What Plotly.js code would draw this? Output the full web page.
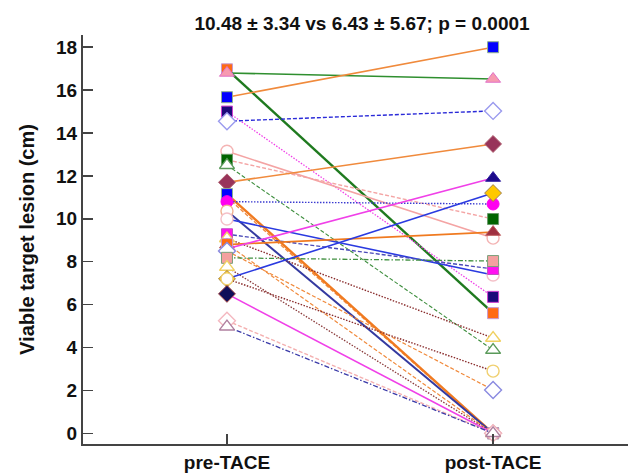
<!DOCTYPE html>
<html>
<head>
<meta charset="utf-8">
<script src="https://cdn.plot.ly/plotly-3.0.1.min.js"></script>
<style>html,body{margin:0;padding:0;background:#fff;}#chart{width:628px;height:474px;}</style>
</head>
<body>
<div id="chart"></div>
<script>
// ---- data ----
const categories = ['pre-TACE', 'post-TACE'];
const preValues  = [16.97, 16.8, 15.67, 15.0, 14.55, 13.15, 12.75, 12.5, 11.7, 11.0, 11.15, 10.8, 10.36, 9.99, 9.28, 9.08, 8.8, 8.6, 8.82, 8.5, 8.18, 7.75, 7.2, 7.2, 6.5, 5.25, 4.97];
const postValues = [5.6, 16.52, 18.0, 6.36, 15.03, 9.1, 9.99, 3.88, 13.49, 0, 0, 10.69, 0, 7.38, 7.66, 4.44, 9.38, 11.9, 0, 2.02, 8.03, 0, 11.2, 2.9, 0, 0, 0];
const yTicks = [0, 2, 4, 6, 8, 10, 12, 14, 16, 18];
const titleText = '10.48 ± 3.34 vs 6.43 ± 5.67; p = 0.0001';
const yTitle = 'Viable target lesion (cm)';

// ---- styles (one per case) ----
const DASH = {solid: 'solid', dash: '4px,2px', dot: '1.5px,1.5px', dashdot: '5px,2px,1.5px,2px'};
const styles = [
  {sym:'square', fill:'#ff6a13', edge:'#c79ad0', lc:'#1f7a1f', dash:'solid', w:2.4},
  {sym:'triangle-up', fill:'#f79ab0', edge:'#e070c8', lc:'#2f8f2f', dash:'solid', w:1.6},
  {sym:'square', fill:'#0000ff', edge:'#8fb08f', lc:'#f08a3c', dash:'solid', w:1.6},
  {sym:'square', fill:'#1c0a7a', edge:'#d040d0', lc:'#f040e8', dash:'dot', w:1.3},
  {sym:'diamond-open', fill:'#9a9aee', edge:'#9a9aee', lc:'#2a2ad8', dash:'dash', w:1.4},
  {sym:'circle-open', fill:'#f4b4b4', edge:'#f4b4b4', lc:'#f4a4a4', dash:'solid', w:1.6},
  {sym:'square', fill:'#006400', edge:'#6a9a6a', lc:'#f4a4a4', dash:'dash', w:1.4},
  {sym:'triangle-up-open', fill:'#5a9a5a', edge:'#5a9a5a', lc:'#3f8f3f', dash:'dash', w:1.1},
  {sym:'diamond', fill:'#98345a', edge:'#b06070', lc:'#f08a3c', dash:'solid', w:1.6},
  {sym:'square', fill:'#0000ff', edge:'#8fb08f', lc:'#f08a3c', dash:'dash', w:1.3},
  {sym:'square', fill:'#0000ff', edge:'#8fb08f', lc:'#f07a20', dash:'solid', w:2.4},
  {sym:'circle', fill:'#ff00f0', edge:'#ff00f0', lc:'#3a3ad0', dash:'dot', w:1.4},
  {sym:'circle-open', fill:'#f0b090', edge:'#f0b090', lc:'#343aa0', dash:'solid', w:2.0},
  {sym:'circle-open', fill:'#f4c0c8', edge:'#f4c0c8', lc:'#2a3ae0', dash:'solid', w:1.6},
  {sym:'square', fill:'#ff10f0', edge:'#c050c0', lc:'#4a4ab8', dash:'dash', w:1.4},
  {sym:'triangle-up-open', fill:'#f0d060', edge:'#f0d060', lc:'#8a2e2e', dash:'dot', w:1.4},
  {sym:'triangle-up', fill:'#a03040', edge:'#c06060', lc:'#f07a20', dash:'solid', w:1.8},
  {sym:'triangle-up', fill:'#1c0a8a', edge:'#3020a0', lc:'#f040e8', dash:'solid', w:1.6},
  {sym:'square', fill:'#ff6a13', edge:'#c79ad0', lc:'#f08a3c', dash:'dash', w:1.2},
  {sym:'diamond-open', fill:'#8a8ae0', edge:'#8a8ae0', lc:'#f08a3c', dash:'dash', w:1.2},
  {sym:'square', fill:'#f4a0a0', edge:'#7aa07a', lc:'#3f8f3f', dash:'dashdot', w:1.3},
  {sym:'triangle-up-open', fill:'#f0d060', edge:'#f0d060', lc:'#8a3a3a', dash:'dot', w:1.3},
  {sym:'diamond', fill:'#ffc800', edge:'#a08050', lc:'#2a3ae0', dash:'solid', w:1.6},
  {sym:'circle-open', fill:'#f0d070', edge:'#f0d070', lc:'#8a2e2e', dash:'dot', w:1.4},
  {sym:'diamond', fill:'#10105a', edge:'#a04040', lc:'#f040e8', dash:'solid', w:1.6},
  {sym:'diamond-open', fill:'#f4b8c0', edge:'#f4b8c0', lc:'#f4b0b0', dash:'dash', w:1.4},
  {sym:'triangle-up-open', fill:'#b080a0', edge:'#b080a0', lc:'#3a3aa8', dash:'dashdot', w:1.3}
];

const traces = preValues.map((pv, i) => {
  const s = styles[i];
  const open = s.sym.indexOf('-open') >= 0;
  const baseSym = s.sym.replace('-open', '');
  const size = baseSym.indexOf('triangle') >= 0 ? 13 : (baseSym.indexOf('diamond') >= 0 ? 13 : (baseSym.indexOf('circle') >= 0 ? 12 : 11));
  return {
    type: 'scatter',
    mode: 'lines+markers',
    x: categories,
    y: [pv, postValues[i]],
    showlegend: false,
    hoverinfo: 'skip',
    line: {color: s.lc, width: s.w, dash: DASH[s.dash]},
    marker: {
      symbol: baseSym,
      size: size,
      color: open ? '#ffffff' : s.fill,
      line: {color: s.edge, width: open ? 1.4 : 1}
    }
  };
});

const fontFam = '"Liberation Sans", Arial, sans-serif';
const layout = {
  width: 628, height: 474,
  margin: {l: 83, r: 0, t: 35, b: 30},
  paper_bgcolor: '#ffffff', plot_bgcolor: '#ffffff',
  font: {family: fontFam, color: '#111'},
  title: {
    text: titleText,
    font: {family: fontFam, size: 19, color: '#111', weight: 'bold'},
    x: 0.512, xref: 'paper', xanchor: 'center',
    y: 0.95, yref: 'container', yanchor: 'middle'
  },
  xaxis: {
    type: 'category',
    range: [-0.541, 1.507],
    showgrid: false, zeroline: false,
    showline: true, linecolor: '#444', linewidth: 2,
    ticks: 'inside', ticklen: 10, tickwidth: 2, tickcolor: '#444',
    tickfont: {family: fontFam, size: 19, color: '#111', weight: 'bold'}
  },
  yaxis: {
    range: [-0.5, 18.57],
    tickvals: yTicks,
    ticktext: yTicks.map(String),
    showgrid: false, zeroline: false,
    showline: true, linecolor: '#444', linewidth: 2,
    ticks: 'inside', ticklen: 10, tickwidth: 1.5, tickcolor: '#444',
    tickfont: {family: fontFam, size: 19, color: '#111', weight: 'bold'},
    title: {text: yTitle, standoff: 16, font: {family: fontFam, size: 20, color: '#111', weight: 'bold'}}
  }
};

Plotly.newPlot('chart', traces, layout, {displayModeBar: false, staticPlot: true});
</script>
</body>
</html>
